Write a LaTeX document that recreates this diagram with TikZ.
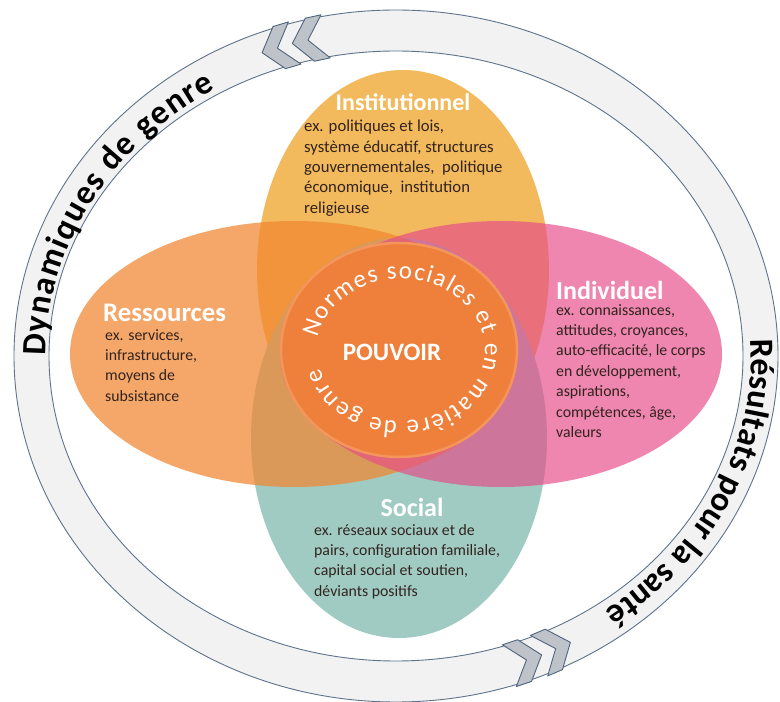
\documentclass[tikz,border=0pt]{standalone}
\usepackage{fontspec}
\setmainfont{Carlito}
\usetikzlibrary{decorations.text}
\definecolor{ringfill}{RGB}{242,242,242}
\definecolor{ringline}{RGB}{95,115,140}
\definecolor{instc}{RGB}{242,186,92}
\definecolor{socc}{RGB}{160,203,195}
\definecolor{ressc}{RGB}{241,134,47}
\definecolor{indivc}{RGB}{230,76,137}
\definecolor{circc}{RGB}{238,128,60}
\definecolor{circrim}{RGB}{246,156,100}
\definecolor{bodytxt}{RGB}{50,35,30}
\definecolor{chevfill}{RGB}{190,195,201}
\definecolor{chevline}{RGB}{80,100,125}
\tikzset{
  chev/.pic={\path[fill=chevfill,draw=chevline,line width=0.9pt,line join=round]
     (-15,22) -- (1,22) -- (19,0) -- (1,-22) -- (-15,-22) -- (3,0) -- cycle;},
  titlebox/.style={font=\fontsize{26}{26}\selectfont\bfseries,text=white,inner sep=0pt},
  bodybox/.style={font=\fontsize{15.8}{20.4}\selectfont,text=bodytxt,align=left,inner sep=0pt},
  ringline/.style={draw=ringline,line width=0.9pt}
}
\begin{document}
\begin{tikzpicture}[x=1pt,y=1pt]
\useasboundingbox[fill=white] (0,0) rectangle (780,702);
% ring
\fill[ringfill,even odd rule] (396,346) ellipse [x radius=382,y radius=346]
      (396,346) ellipse [x radius=347,y radius=305];
\draw[ringline] (396,346) ellipse [x radius=382,y radius=346];
\draw[ringline] (396,346) ellipse [x radius=347,y radius=305];
% chevrons
\pic[rotate=196.6] (c1) at (280.3,654.7) {chev};
\pic[rotate=192.1] (c2) at (310.9,662.5) {chev};
\pic[rotate=18.5] (c3) at (523.6,41.1) {chev};
\pic[rotate=23.1] (c4) at (552.9,52.2) {chev};
% ring texts
\path[color=black,decorate,decoration={text along path,text align={fit to path},
  text={|\fontsize{34}{34}\selectfont\bfseries|Dynamiques de genre}}]
  (396,346) ++(180:350 and 311) arc [start angle=180,end angle=121,x radius=350,y radius=311];
\path[color=black,decorate,decoration={text along path,text align={fit to path},
  text={|\fontsize{34}{34}\selectfont\bfseries|Résultats pour la santé}}]
  (396,346) ++(3:355 and 315) arc [start angle=3,end angle=-54,x radius=355,y radius=315];
% ellipses
\fill[instc] (403,432) ellipse [x radius=146,y radius=200];
\fill[socc] (399,264) ellipse [x radius=148,y radius=200];
\fill[ressc,opacity=0.72] (294,348) ellipse [x radius=224,y radius=133];
\fill[indivc,opacity=0.67] (501,348) ellipse [x radius=221,y radius=133];
% centre
\fill[circc] (399,352) ellipse [x radius=119,y radius=108];
\draw[circrim,line width=2.5pt,opacity=0.8] (399,352) ellipse [x radius=118,y radius=107];
\path[color=white,decorate,decoration={text along path,text align={fit to path},
  text={|\fontsize{25}{25}\selectfont\color{white}|Normes sociales et en matière de genre}}]
  (401,352) ++(170:84 and 71) arc [start angle=170,end angle=-165,x radius=84,y radius=71];
\node[titlebox,font=\fontsize{25}{25}\selectfont\bfseries] (pouvoir) at (392,350) {POUVOIR};
% texts
\node[titlebox,font=\fontsize{24}{24}\selectfont\bfseries] (instT) at (403,600) {Institutionnel};
\node[bodybox,font=\fontsize{16.7}{20.4}\selectfont,anchor=north west] (instB) at (304,582) {ex. politiques et lois,\\système éducatif, structures\\gouvernementales,\ \ politique\\économique,\ \ institution\\religieuse};
\node[titlebox,font=\fontsize{26.8}{26.8}\selectfont\bfseries,anchor=west] (ressT) at (103,389) {Ressources};
\node[bodybox,anchor=north west] (ressB) at (105,373) {ex. services,\\infrastructure,\\moyens de\\subsistance};
\node[titlebox,anchor=west] (indT) at (556,412) {Individuel};
\node[bodybox,anchor=north west] (indB) at (556,398) {ex. connaissances,\\attitudes, croyances,\\auto-efficacité, le corps\\en développement,\\aspirations,\\compétences,\ âge,\\valeurs};
\node[titlebox] (socT) at (412,195) {Social};
\node[bodybox,anchor=north west] (socB) at (314,178) {ex. réseaux sociaux et de\\pairs, configuration familiale,\\capital social et soutien,\\déviants positifs};
\end{tikzpicture}
\end{document}
